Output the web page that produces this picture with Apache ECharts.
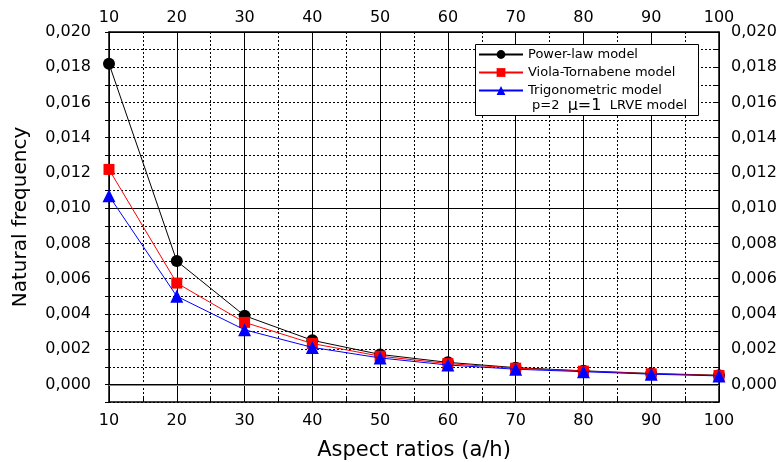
<!DOCTYPE html>
<html><head><meta charset="utf-8">
<script src="https://cdn.jsdelivr.net/npm/echarts@6/dist/echarts.min.js"></script>
<style>html,body{margin:0;padding:0;background:#fff}#c{width:784px;height:462px}</style>
</head><body><div id="c"></div>
<script>
const aspectRatios = [10, 20, 30, 40, 50, 60, 70, 80, 90, 100];
const powerLaw = [0.0182, 0.0070, 0.0039, 0.0025, 0.0017, 0.00125, 0.00095, 0.00077, 0.00062, 0.00052];
const violaTornabene = [0.0122, 0.00575, 0.00352, 0.00232, 0.00160, 0.00118, 0.00092, 0.00075, 0.00060, 0.00050];
const trigonometric = [0.0107, 0.0050, 0.0031, 0.0021, 0.0015, 0.0011, 0.00086, 0.00072, 0.00058, 0.00048];
const yMajorTicks = [0, 0.002, 0.004, 0.006, 0.008, 0.010, 0.012, 0.014, 0.016, 0.018];
const seriesNames = ['Power-law model', 'Viola-Tornabene model', 'Trigonometric model'];

const F = 'DejaVu Sans';
function yFmt(v){
  const k = Math.round(v*1000);
  if (k < 0 || k % 2 !== 0) return '';
  return (k/1000).toFixed(3).replace('.', ',');
}
function xFmt(v){ return (Math.round(v) % 10 === 0) ? String(Math.round(v)) : ''; }
const dotted = {color:'#000', width:1, type:[2,2]};
const yAxisBase = {
  type:'value', min:-0.001, max:0.020, interval:0.001,
  axisLine:{show:true, lineStyle:{color:'#000', width:1.5}},
  axisTick:{show:true, length:4, lineStyle:{color:'#000'}},
  axisLabel:{formatter:yFmt, color:'#000', fontFamily:F, fontSize:16}
};
const chart = echarts.init(document.getElementById('c'));
const mk = (arr) => aspectRatios.map((x,i)=>[x, arr[i]]);
chart.setOption({
  animation:false,
  grid:{left:109, right:65, top:32, bottom:60, containLabel:false, outerBoundsMode:'none'},
  xAxis:[
    {type:'value', position:'bottom', min:10, max:100, interval:5,
     axisLine:{onZero:false, lineStyle:{color:'#000', width:1.5}},
     axisTick:{inside:true, length:5, lineStyle:{color:'#000'}},
     splitLine:{show:true, lineStyle:dotted},
     axisLabel:{formatter:xFmt, color:'#000', fontFamily:F, fontSize:16, margin:11, showMinLabel:true, showMaxLabel:true},
     name:'Aspect ratios (a/h)', nameLocation:'middle', nameGap:38,
     nameTextStyle:{color:'#000', fontFamily:F, fontSize:21}},
    {type:'value', position:'top', min:10, max:100, interval:10,
     axisLine:{onZero:false, lineStyle:{color:'#000', width:1.5}},
     axisTick:{inside:true, length:5, lineStyle:{color:'#000'}},
     splitLine:{show:true, lineStyle:{color:'#000', width:1}},
     axisLabel:{color:'#000', fontFamily:F, fontSize:16, margin:6}}
  ],
  yAxis:[
    Object.assign({}, yAxisBase, {position:'left',
      splitLine:{show:true, lineStyle:dotted},
      axisLabel:Object.assign({}, yAxisBase.axisLabel, {margin:18}),
      name:'Natural frequency', nameLocation:'middle', nameGap:78, nameRotate:90,
      nameTextStyle:{color:'#000', fontFamily:F, fontSize:20}}),
    Object.assign({}, yAxisBase, {position:'right',
      splitLine:{show:false},
      axisTick:{show:true, inside:true, length:4, lineStyle:{color:'#000'}},
      axisLabel:Object.assign({}, yAxisBase.axisLabel, {margin:12})})
  ],
  legend:{
    orient:'vertical', left:478, top:48, itemWidth:44, itemHeight:11, itemGap:5, z:10,
    data:seriesNames, padding:0,
    textStyle:{color:'#000', fontFamily:F, fontSize:13}
  },
  graphic:[
    {type:'rect', left:475, top:44, z:3, shape:{width:223, height:71},
     style:{fill:'#fff', stroke:'#000', lineWidth:1}},
    {type:'text', left:532, top:98, z:101,
     style:{text:'{a|p=2  }{b|μ=1}{a|  LRVE model}', fill:'#000',
       rich:{a:{fontFamily:F, fontSize:13, fill:'#000'}, b:{fontFamily:F, fontSize:16, fill:'#000'}}}}
  ],
  series:[
    {type:'line', name:'grid', data:[], silent:true, z:1,
     markLine:{silent:true, symbol:'none', label:{show:false}, animation:false,
       data:yMajorTicks.map(v=>({yAxis:v, lineStyle:{color: v===0 ? '#888' : '#000', width: v===0 ? 2 : 1, type:'solid'}}))}},
    {type:'line', name:seriesNames[0], data:mk(powerLaw), symbol:'circle', symbolSize:12, z:5,
     itemStyle:{color:'#000'}, lineStyle:{color:'#000', width:1}},
    {type:'line', name:seriesNames[1], data:mk(violaTornabene), symbol:'rect', symbolSize:11, z:6,
     itemStyle:{color:'#f00'}, lineStyle:{color:'#f00', width:1}},
    {type:'line', name:seriesNames[2], data:mk(trigonometric), symbol:'triangle', symbolSize:13, z:7,
     itemStyle:{color:'#00f'}, lineStyle:{color:'#00f', width:1}}
  ]
});
</script></body></html>
